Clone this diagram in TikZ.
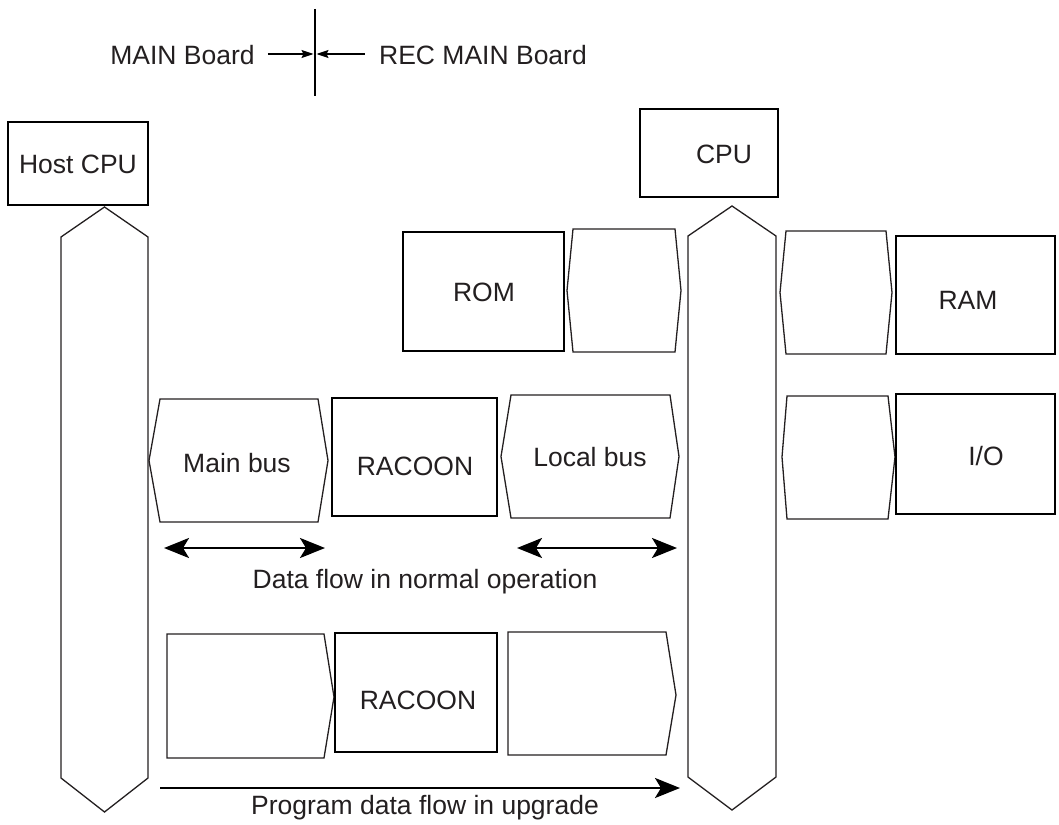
\documentclass[tikz,border=0pt]{standalone}
\usepackage{fontspec}
\setmainfont{Liberation Sans}
\usetikzlibrary{arrows.meta}
\definecolor{ink}{HTML}{231F20}
\tikzset{
  box/.style={draw=black, line width=2.4pt},
  busline/.style={draw=ink, line width=1.3pt, line join=miter},
  lbl/.style={text=ink, font=\fontsize{26.5}{30}\selectfont, inner sep=0pt},
  bigarrow/.style={line width=2.6pt, draw=black},
  bighead/.tip={Stealth[length=25pt,width=20pt,inset=6pt]},
  smallarrow/.style={line width=1.2pt, draw=black, -{Stealth[length=12pt,width=8pt,inset=2pt]}},
}
\begin{document}
\begin{tikzpicture}[x=1pt,y=-1pt]
\useasboundingbox (0,0) rectangle (1059,824);
% top board separation
\coordinate (sepT) at (315,9);
\coordinate (sepB) at (315,96);
\draw[line width=2.4pt] (sepT) -- (sepB);
\node[lbl] (mainb) at (182.5,55) {MAIN Board};
\node[lbl] (recb) at (483,55) {REC MAIN Board};
\coordinate (sepL) at (313.5,54);
\coordinate (sepR) at (316.5,54);
\draw[smallarrow] (mainb.east) ++(13,-1) coordinate (aL) (aL) -- (sepL);
\draw[smallarrow] (recb.west) ++(-14,-1) coordinate (aR) (aR) -- (sepR);

% Host CPU and left bus
\node[box, minimum width=140pt, minimum height=83pt, inner sep=0pt] (host) at (78,163.5) {};
\node[lbl] (hostt) at (78,164) {Host CPU};
\draw[busline] (104.5,207) -- (148,237) -- (148,778) -- (104.5,812) -- (61,778) -- (61,237) -- cycle;
\coordinate (hbus) at (104.5,500);

% CPU and right bus
\node[box, minimum width=138pt, minimum height=88pt, inner sep=0pt] (cpu) at (709,153) {};
\node[lbl] (cput) at (724,154) {CPU};
\draw[busline] (732,206) -- (776,236) -- (776,777) -- (732,810) -- (688,777) -- (688,236) -- cycle;
\coordinate (cbus) at (732,500);

% ROM row
\node[box, minimum width=161pt, minimum height=119pt, inner sep=0pt] (rom) at (483.5,291.5) {};
\node[lbl] (romt) at (484,292) {ROM};
\draw[busline] (567,290.5) -- (573,229) -- (675,229) -- (681,290.5) -- (675,352) -- (573,352) -- cycle;
\draw[busline] (780,292.5) -- (786,231) -- (886,231) -- (892,292.5) -- (886,354) -- (786,354) -- cycle;
\node[box, minimum width=159pt, minimum height=118pt, inner sep=0pt] (ram) at (975.5,295) {};
\node[lbl] (ramt) at (968,300) {RAM};

% I/O row
\draw[busline] (782,457) -- (787,396) -- (888,396) -- (895,457) -- (888,519) -- (787,519) -- cycle;
\node[box, minimum width=159pt, minimum height=120pt, inner sep=0pt] (io) at (975.5,454) {};
\node[lbl] (iot) at (986,456) {I/O};

% normal operation row
\draw[busline] (149,460.5) -- (160,399) -- (318,399) -- (328,460.5) -- (318,522) -- (160,522) -- cycle;
\node[lbl] (mainbus) at (237,463) {Main bus};
\node[box, minimum width=165pt, minimum height=118pt, inner sep=0pt] (rac1) at (414.5,457) {};
\node[lbl] (rac1t) at (415,466) {RACOON};
\draw[busline] (501,456.5) -- (511,395) -- (670,395) -- (679,456.5) -- (670,518) -- (511,518) -- cycle;
\node[lbl] (localbus) at (590,457) {Local bus};

\coordinate (d1a) at (164,548);
\coordinate (d1b) at (325,548);
\coordinate (d2a) at (517,548);
\coordinate (d2b) at (677,548);
\draw[bigarrow, bighead-bighead] (d1a) -- (d1b);
\draw[bigarrow, bighead-bighead] (d2a) -- (d2b);
\node[lbl] (normal) at (425,582) {Data flow in normal operation};

% upgrade row
\draw[busline] (167,634) -- (324,634) -- (334,697) -- (324,758) -- (167,758) -- cycle;
\node[box, minimum width=162pt, minimum height=119pt, inner sep=0pt] (rac2) at (416,692.5) {};
\node[lbl] (rac2t) at (418,700) {RACOON};
\draw[busline] (508,632) -- (666,632) -- (676,695) -- (666,755) -- (508,755) -- cycle;

\coordinate (ua) at (160,788);
\coordinate (ub) at (680,788);
\draw[bigarrow, -bighead] (ua) -- (ub);
\node[lbl] (upgrade) at (425,808) {Program data flow in upgrade};
\end{tikzpicture}
\end{document}
